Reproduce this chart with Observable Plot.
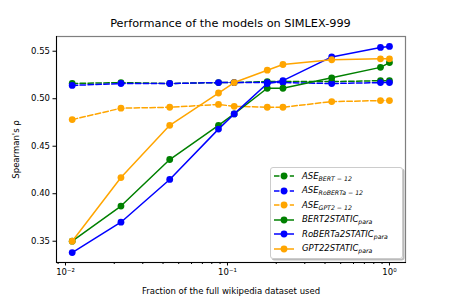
<!DOCTYPE html>
<html>
<head>
<meta charset="utf-8">
<script src="https://cdn.jsdelivr.net/npm/d3@7"></script>
<script src="https://cdn.jsdelivr.net/npm/@observablehq/plot@0.6"></script>
<style>
  html, body { margin: 0; padding: 0; background: #fff; }
  #wrap { position: relative; width: 450px; height: 300px; font-family: "DejaVu Sans", sans-serif; }
  #title { position: absolute; left: 56px; width: 349px; top: 17px; text-align: center; font-size: 11.3px; color: #000; }
  #legend { position: absolute; left: 270px; top: 167px; width: 131px; height: 90px; border: 1px solid #cccccc; border-radius: 3px; background: rgba(255,255,255,0.9); box-shadow: 1.5px 1.5px 0 #bbbbbb; }
  .item { position: absolute; left: 2px; height: 12px; display: flex; align-items: center; font-size: 8.5px; font-style: italic; white-space: nowrap; }
  .item svg { margin-right: 7px; }
  .item sub { font-size: 6.2px; vertical-align: -2px; }
</style>
</head>
<body>
<div id="wrap">
  <div id="title">Performance of the models on SIMLEX-999</div>
  <div id="chart"></div>
  <div id="legend"></div>
</div>
<script>
// Data
const fractions = [0.011, 0.022, 0.044, 0.088, 0.11, 0.176, 0.22, 0.44, 0.88, 1.0];
const aseBert = [0.516, 0.517, 0.516, 0.517, 0.517, 0.518, 0.518, 0.518, 0.519, 0.519];
const aseRoberta = [0.514, 0.516, 0.516, 0.517, 0.517, 0.517, 0.517, 0.516, 0.517, 0.517];
const aseGpt2 = [0.478, 0.490, 0.491, 0.494, 0.492, 0.491, 0.491, 0.497, 0.498, 0.498];
const bert2static = [0.350, 0.387, 0.436, 0.472, 0.484, 0.511, 0.511, 0.522, 0.533, 0.538];
const roberta2static = [0.338, 0.370, 0.415, 0.468, 0.484, 0.516, 0.519, 0.544, 0.554, 0.555];
const gpt22static = [0.350, 0.417, 0.472, 0.506, 0.517, 0.530, 0.536, 0.541, 0.542, 0.542];

const seriesMain = ["ASE", "ASE", "ASE", "BERT2STATIC", "RoBERTa2STATIC", "GPT22STATIC"];
const seriesSub = ["BERT − 12", "RoBERTa − 12", "GPT2 − 12", "para", "para", "para"];
const seriesValues = [aseBert, aseRoberta, aseGpt2, bert2static, roberta2static, gpt22static];
const seriesColors = ["green", "blue", "orange", "green", "blue", "orange"];
const seriesDashed = [true, true, true, false, false, false];

const yTicks = [0.35, 0.40, 0.45, 0.50, 0.55];
const xMajor = [0.01, 0.1, 1];
const xMajorLabels = ["10⁻²", "10⁻¹", "10⁰"];
const xMinor = [0.009, 0.02, 0.03, 0.04, 0.05, 0.06, 0.07, 0.08, 0.09, 0.2, 0.3, 0.4, 0.5, 0.6, 0.7, 0.8, 0.9];

const marks = [];
seriesValues.forEach((vals, i) => {
  const rows = fractions.map((f, j) => ({x: f, y: vals[j]}));
  marks.push(Plot.line(rows, {x: "x", y: "y", stroke: seriesColors[i], strokeWidth: 1.5,
    strokeDasharray: seriesDashed[i] ? "5.5,2.4" : null}));
  marks.push(Plot.dot(rows, {x: "x", y: "y", fill: seriesColors[i], r: 3.4, stroke: null}));
});

const majorFmt = d => {
  const k = xMajor.findIndex(v => Math.abs(v - d) < 1e-9);
  return k >= 0 ? xMajorLabels[k] : "";
};

const chart = Plot.plot({
  width: 450,
  height: 300,
  marginLeft: 56,
  marginRight: 45,
  marginTop: 36,
  marginBottom: 38,
  style: {fontFamily: "DejaVu Sans, sans-serif", fontSize: "8.5px", color: "#000", background: "transparent"},
  x: {type: "log", domain: [0.0088, 1.256]},
  y: {domain: [0.3276, 0.5655]},
  marks: [
    Plot.frame({stroke: "#7f7f7f", strokeWidth: 1.2}),
    ...marks,
    Plot.frame({anchor: "left", stroke: "#000", strokeWidth: 1}),
    Plot.frame({anchor: "bottom", stroke: "#000", strokeWidth: 1}),
    Plot.axisY({ticks: yTicks, tickFormat: d3.format(".2f"), tickSize: 3.5, tickPadding: 3,
      label: "Spearman's ρ", labelAnchor: "center", labelArrow: "none", labelOffset: 44}),
    Plot.axisX({ticks: xMinor, tickFormat: () => "", tickSize: 2, label: null}),
    Plot.axisX({ticks: xMajor, tickFormat: majorFmt, tickSize: 3.5, tickPadding: 3,
      label: "Fraction of the full wikipedia dataset used", labelAnchor: "center", labelArrow: "none", labelOffset: 31})
  ]
});
document.getElementById("chart").appendChild(chart);

const legend = document.getElementById("legend");
seriesMain.forEach((name, i) => {
  const item = document.createElement("div");
  item.className = "item";
  item.style.top = (2 + i * 14.5) + "px";
  const c = seriesColors[i];
  item.innerHTML = `<svg width="22" height="10"><line x1="1" x2="21" y1="5" y2="5" stroke="${c}" stroke-width="1.5" ${seriesDashed[i] ? 'stroke-dasharray="5.5,2.4"' : ''}/><circle cx="11" cy="5" r="3.4" fill="${c}"/></svg><span>${name}<sub>${seriesSub[i]}</sub></span>`;
  legend.appendChild(item);
});
</script>
</body>
</html>
